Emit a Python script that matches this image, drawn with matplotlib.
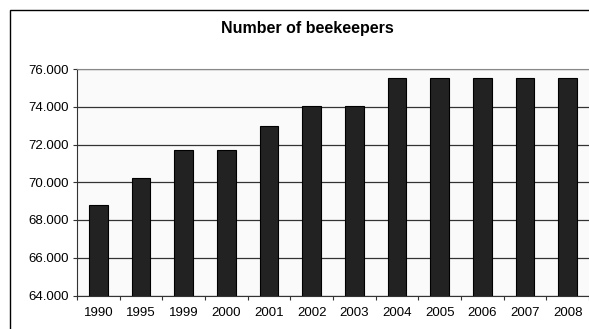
import matplotlib
matplotlib.use("Agg")
import matplotlib.pyplot as plt
from matplotlib.patches import Rectangle
from matplotlib.ticker import FuncFormatter, FixedLocator, NullFormatter
import numpy as np

years = ["1990", "1995", "1999", "2000", "2001", "2002",
         "2003", "2004", "2005", "2006", "2007", "2008"]
beekeepers = [68800, 70200, 71700, 71700, 73000, 74050,
              74050, 75500, 75500, 75500, 75500, 75500]
y_ticks = [64000, 66000, 68000, 70000, 72000, 74000, 76000]

plt.rcParams["font.family"] = ["Liberation Sans", "DejaVu Sans"]

W, H = 589, 329
fig = plt.figure(figsize=(W / 100, H / 100), dpi=100)
fig.patch.set_facecolor("white")

# outer chart frame (runs off the right and bottom edges)
fig.add_artist(Rectangle((10 / W, -0.1), 1.2, 1.1 - 10 / H,
                         transform=fig.transFigure, fill=False,
                         edgecolor="black", linewidth=1.0))

ax = fig.add_axes([77 / W, 1 - 295.5 / H, 1 - 77 / W, (295.5 - 69) / H])
ax.set_facecolor("#fafafa")

x = np.arange(len(years))
ax.bar(x, beekeepers, width=0.43, color="#222222", edgecolor="black",
       linewidth=0.8, zorder=3)

ax.set_xlim(-0.5, len(years) - 0.5)
ax.set_ylim(64000, 76000)
ax.set_yticks(y_ticks)
ax.yaxis.set_major_formatter(FuncFormatter(lambda v, p: f"{int(v):,}".replace(",", ".")))
ax.grid(axis="y", color="#333333", linewidth=0.9, zorder=1)

# category boundaries carry the ticks, labels sit in the middle
ax.xaxis.set_major_locator(FixedLocator(np.arange(len(years) + 1) - 0.5))
ax.xaxis.set_major_formatter(NullFormatter())
ax.xaxis.set_minor_locator(FixedLocator(x))
ax.set_xticklabels(years, minor=True)
ax.tick_params(axis="x", which="major", length=3, width=0.8, color="#333333")
ax.tick_params(axis="x", which="minor", length=0, pad=8, labelsize=9.5)
ax.tick_params(axis="y", length=3, width=0.8, color="#333333", labelsize=9.5, pad=3)

ax.spines["right"].set_visible(False)
ax.spines["top"].set_color("#888888")
ax.spines["left"].set_color("#333333")
ax.spines["bottom"].set_color("#333333")

fig.text(307.5 / W, 1 - 28 / H, "Number of beekeepers", ha="center", va="center",
         fontsize=11.5, fontweight="bold")

fig.savefig("out.png", dpi=100)
